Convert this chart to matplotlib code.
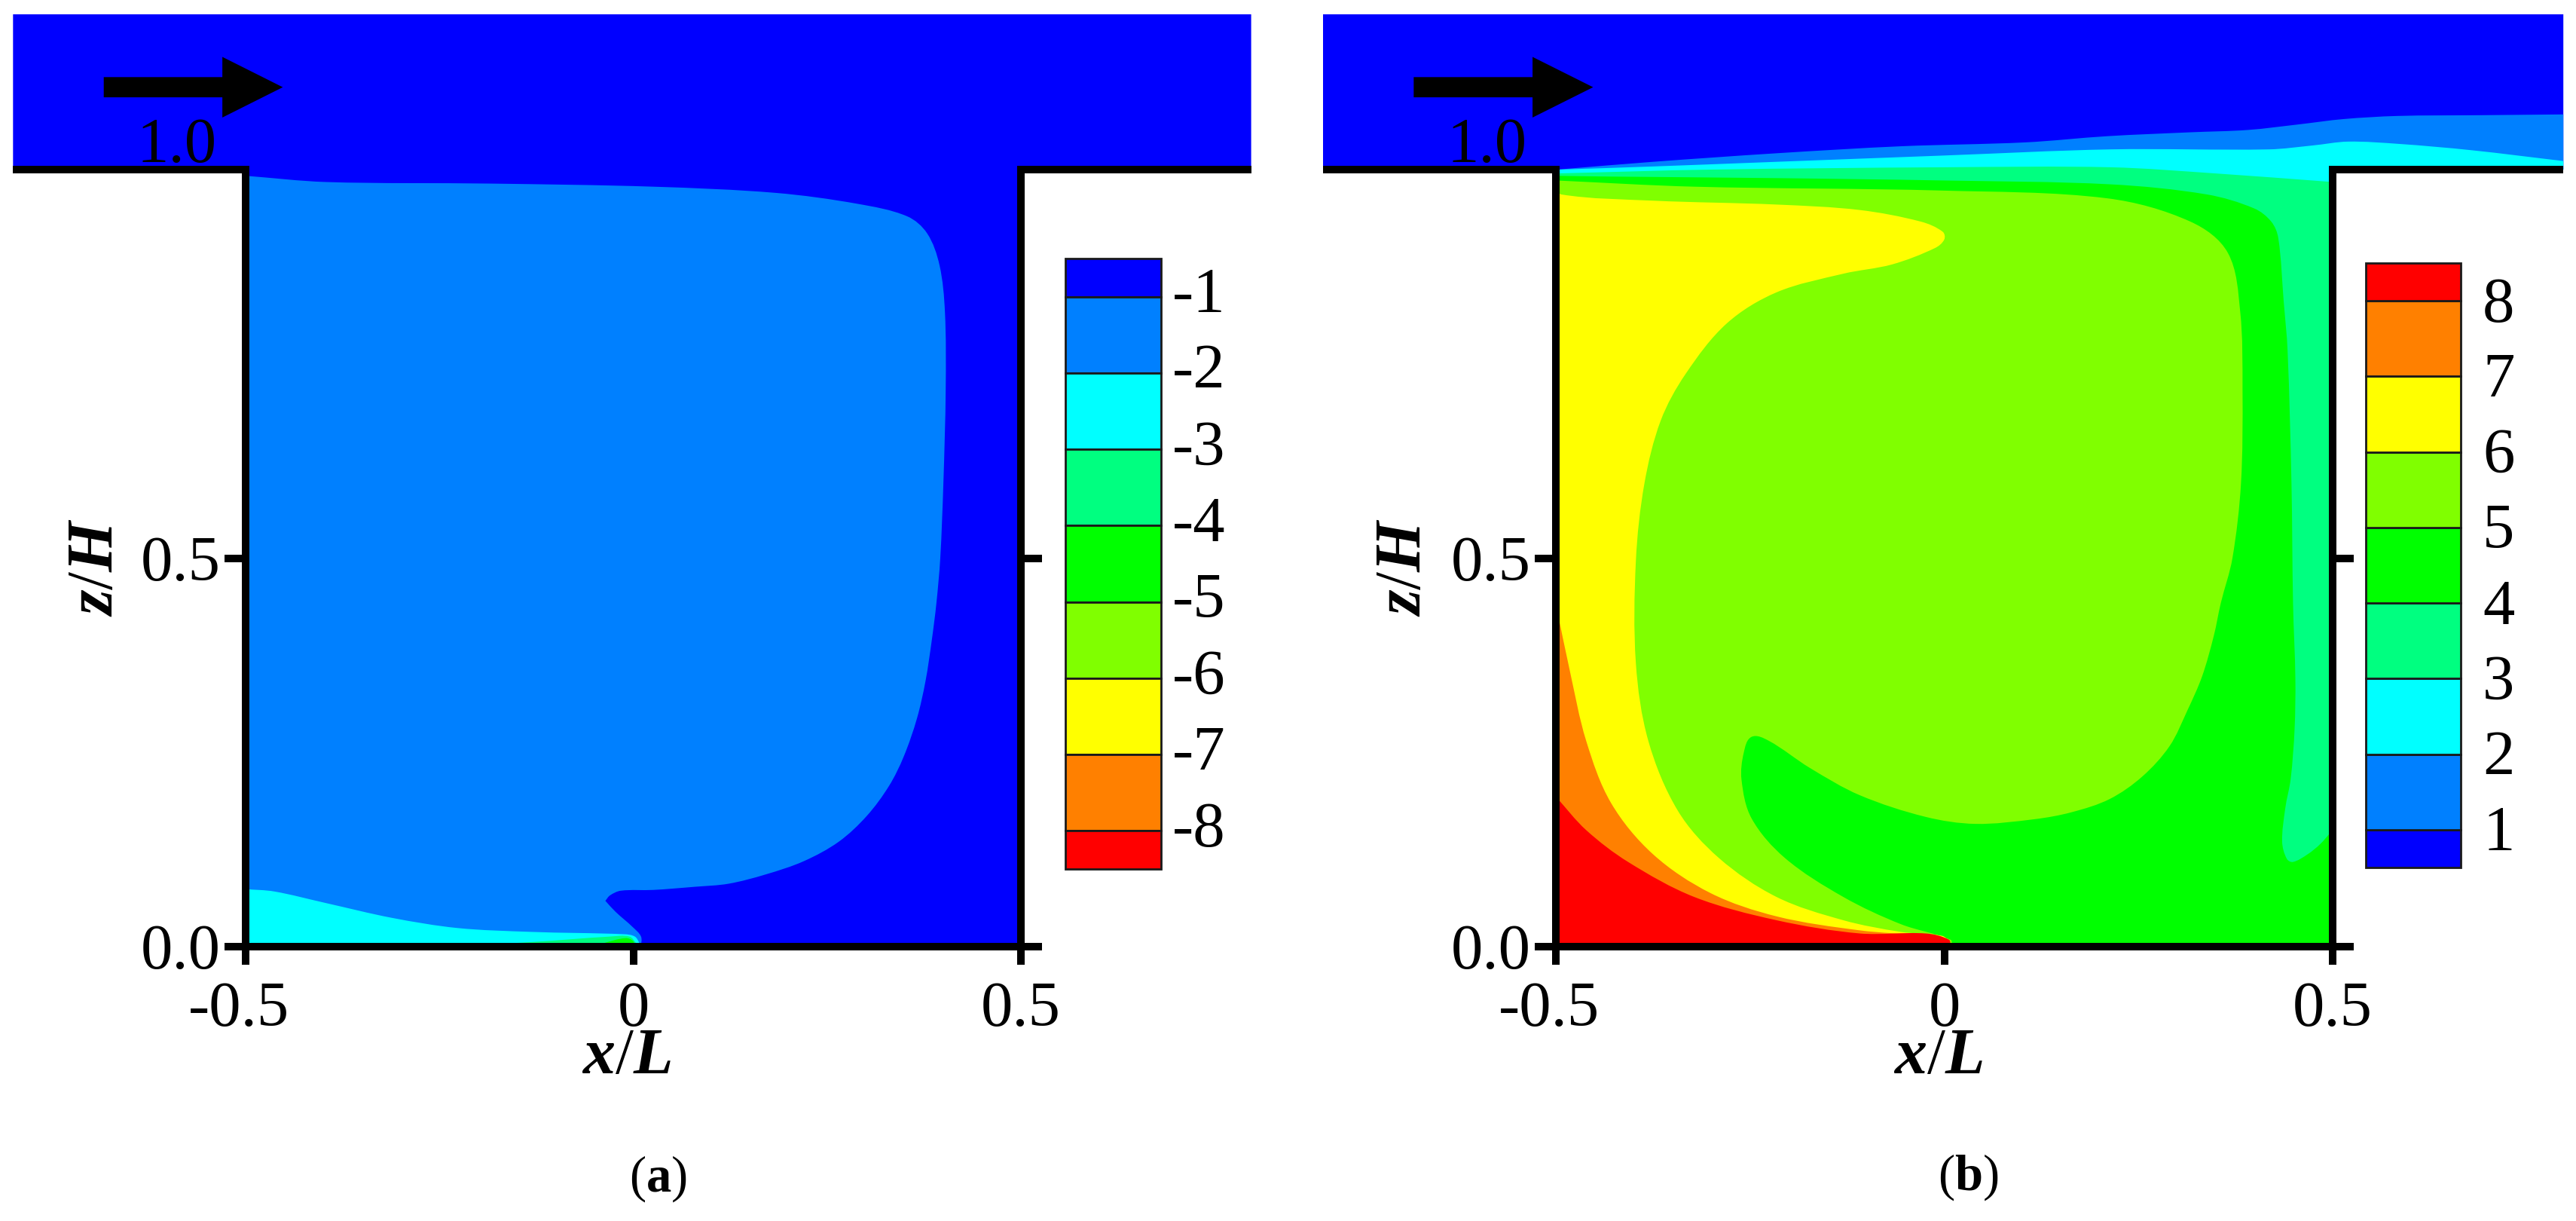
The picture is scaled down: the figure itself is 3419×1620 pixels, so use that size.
import matplotlib
matplotlib.use("Agg")
import numpy as np
import matplotlib.pyplot as plt
from matplotlib.patches import PathPatch
from matplotlib.path import Path
from matplotlib.transforms import ScaledTranslation

plt.rcParams['font.family'] = ['Liberation Serif', 'DejaVu Serif']
plt.rcParams['mathtext.fontset'] = 'custom'
plt.rcParams['mathtext.bf'] = 'Liberation Serif:bold'
plt.rcParams['mathtext.rm'] = 'Liberation Serif'
plt.rcParams['mathtext.bfit'] = 'Liberation Serif:italic:bold'

W, H = 3419, 1620
DPI = 100
FS = 61

BLUE, DODGER, CYAN, SPRING, LIME, CHART, YELLOW, ORANGE, RED = (
    '#0000ff', '#0080ff', '#00ffff', '#00ff80', '#00ff00',
    '#80ff00', '#ffff00', '#ff8000', '#ff0000')
cbar_colors = [BLUE, DODGER, CYAN, SPRING, LIME, CHART, YELLOW, ORANGE, RED]

x_ticks = [-0.5, 0, 0.5]
x_tick_labels = ['-0.5', '0', '0.5']
z_ticks = [0.0, 0.5, 1.0]
z_tick_labels = ['0.0', '0.5', '']

levels_a = [-1, -2, -3, -4, -5, -6, -7, -8]
edges_a = [-0.5, -1, -2, -3, -4, -5, -6, -7, -8, -8.5]
levels_b = [1, 2, 3, 4, 5, 6, 7, 8]
edges_b = [0.5, 1, 2, 3, 4, 5, 6, 7, 8, 8.5]

channel = [(-0.8, 1.0), (0.797, 1.0), (0.797, 1.2), (-0.8, 1.2)]
cavity = [(-0.5, 0.0), (0.5, 0.0), (0.5, 1.0), (-0.5, 1.0)]

# panel a, contour outlines (x/L, z/H)
a_dodger = [(-0.5, 0.992), (-0.396, 0.984), (-0.185, 0.982), (0.026, 0.978), (0.184, 0.970),
            (0.289, 0.956), (0.353, 0.940), (0.379, 0.918), (0.395, 0.877), (0.402, 0.817),
            (0.403, 0.717), (0.400, 0.596), (0.396, 0.500), (0.391, 0.442), (0.385, 0.394),
            (0.377, 0.342), (0.366, 0.294), (0.349, 0.245), (0.330, 0.207), (0.301, 0.168),
            (0.265, 0.135), (0.220, 0.110), (0.171, 0.093), (0.123, 0.081), (0.079, 0.077),
            (0.026, 0.073), (-0.016, 0.072), (-0.03, 0.066), (-0.036, 0.059), (-0.023, 0.045),
            (-0.0005, 0.025), (0.010, 0.013), (0.010, 0.0), (-0.5, 0.0)]
a_cyan = [(-0.5, 0.074), (-0.463, 0.071), (-0.396, 0.056), (-0.311, 0.037), (-0.227, 0.024),
          (-0.132, 0.019), (-0.012, 0.016), (0.002, 0.013), (0.008, 0.004), (0.008, 0.0), (-0.5, 0.0)]
a_spring = [(-0.24, 0.0), (-0.13, 0.006), (-0.03, 0.013), (-0.005, 0.013), (0.004, 0.004), (0.005, 0.0)]
a_lime = [(-0.05, 0.0), (-0.04, 0.004), (-0.01, 0.011), (0.0, 0.007), (0.001, 0.0)]

# panel b
b_dodger = [(-0.498, 1.0), (-0.375, 1.010), (-0.216, 1.021), (-0.056, 1.030), (0.104, 1.035),
            (0.210, 1.043), (0.317, 1.048), (0.391, 1.051), (0.455, 1.058), (0.514, 1.065),
            (0.583, 1.069), (0.690, 1.070), (0.797, 1.071), (0.797, 1.0), (0.5, 1.0), (0.5, 0.9),
            (-0.498, 0.9)]
b_cyan = [(-0.495, 1.0), (-0.375, 1.004), (-0.216, 1.010), (-0.003, 1.018), (0.214, 1.026),
          (0.418, 1.026), (0.474, 1.031), (0.520, 1.036), (0.586, 1.033), (0.678, 1.025),
          (0.797, 1.011), (0.797, 1.0), (0.5, 1.0), (0.5, 0.9), (-0.495, 0.9)]
b_spring = [(-0.5, 0.995), (-0.3, 1.0), (0.0, 1.003), (0.214, 1.003), (0.35, 0.995), (0.5, 0.984),
            (0.5, 0.0), (-0.5, 0.0)]
b_lime = [(-0.5, 0.992), (-0.429, 0.991), (-0.216, 0.989), (-0.003, 0.986), (0.214, 0.981),
          (0.338, 0.968), (0.399, 0.950), (0.421, 0.933), (0.430, 0.912), (0.437, 0.830),
          (0.442, 0.767), (0.447, 0.596), (0.449, 0.442), (0.452, 0.345), (0.451, 0.280),
          (0.446, 0.216), (0.439, 0.178), (0.435, 0.135), (0.441, 0.113), (0.449, 0.109),
          (0.468, 0.119), (0.484, 0.132), (0.5, 0.15), (0.5, 0.0), (-0.5, 0.0)]
b_chart = [(-0.5, 0.986), (-0.322, 0.978), (-0.003, 0.973), (0.210, 0.963), (0.317, 0.933),
           (0.365, 0.893), (0.381, 0.817), (0.384, 0.717), (0.382, 0.596), (0.371, 0.500),
           (0.356, 0.442), (0.347, 0.400), (0.332, 0.348), (0.313, 0.304), (0.290, 0.258),
           (0.255, 0.219), (0.213, 0.190), (0.164, 0.173), (0.116, 0.164), (0.040, 0.158),
           (-0.024, 0.167), (-0.109, 0.195), (-0.173, 0.230), (-0.226, 0.265),
           (-0.248, 0.270), (-0.258, 0.250), (-0.261, 0.215), (-0.248, 0.165), (-0.205, 0.114),
           (-0.130, 0.064), (-0.056, 0.029), (0.008, 0.009), (0.010, 0.0), (-0.5, 0.0)]
b_yellow = [(-0.5, 0.98), (-0.493, 0.968), (-0.375, 0.960), (-0.216, 0.955), (-0.109, 0.948),
            (-0.03, 0.933), (-0.002, 0.920), (0.0, 0.910), (-0.012, 0.899), (-0.067, 0.878), (-0.130, 0.866),
            (-0.216, 0.842), (-0.280, 0.802), (-0.333, 0.737), (-0.365, 0.677), (-0.386, 0.596),
            (-0.397, 0.496), (-0.397, 0.365), (-0.381, 0.265), (-0.343, 0.175), (-0.290, 0.114),
            (-0.216, 0.064), (-0.130, 0.034), (-0.056, 0.019), (-0.003, 0.014), (0.006, 0.007),
            (0.008, 0.0), (-0.5, 0.0)]
b_orange = [(-0.5, 0.441), (-0.482, 0.355), (-0.461, 0.265), (-0.429, 0.185), (-0.375, 0.119),
            (-0.301, 0.069), (-0.216, 0.039), (-0.109, 0.021), (-0.024, 0.014), (0.003, 0.009),
            (0.007, 0.0), (-0.5, 0.0)]
b_red = [(-0.5, 0.193), (-0.461, 0.150), (-0.407, 0.109), (-0.322, 0.064), (-0.216, 0.034),
         (-0.109, 0.017), (-0.024, 0.017), (0.006, 0.009), (0.008, 0.0), (-0.5, 0.0)]

arrow_start, arrow_end, arrow_z = -0.683, -0.452, 1.106


def px_axes(fig, x0, y0, x1, y1):
    return fig.add_axes([x0 / W, 1 - y1 / H, (x1 - x0) / W, (y1 - y0) / H])


def shift(label, dx, dy):
    label.set_transform(label.get_transform() + ScaledTranslation(dx / DPI, -dy / DPI, fig.dpi_scale_trans))


def smooth_path(pts, corner_deg=80):
    # bezier through the read points, sharp where the outline really turns
    p = np.array(pts, dtype=float)
    n = len(p)
    d_out = np.roll(p, -1, axis=0) - p
    seg = np.hypot(d_out[:, 0], d_out[:, 1])
    u_out = d_out / seg[:, None]
    u_in = np.roll(u_out, 1, axis=0)
    cos_turn = np.clip((u_in * u_out).sum(axis=1), -1, 1)
    corner = np.degrees(np.arccos(cos_turn)) > corner_deg
    tan = np.roll(p, -1, axis=0) - np.roll(p, 1, axis=0)
    tan = tan / np.hypot(tan[:, 0], tan[:, 1])[:, None]
    verts, codes = [p[0]], [Path.MOVETO]
    for i in range(n):
        j = (i + 1) % n
        t0 = u_out[i] if corner[i] else tan[i]
        t1 = u_out[i] if corner[j] else tan[j]
        verts += [p[i] + t0 * seg[i] / 3, p[j] - t1 * seg[i] / 3, p[j]]
        codes += [Path.CURVE4] * 3
    return Path(verts, codes)


def draw_panel(fig, left_px, unit_px, regions, xlabel_x, ylabel_x):
    ax = px_axes(fig, left_px, 1256 - 1.2 * 1031, left_px + 1.6 * unit_px, 1256)
    ax.set_xlim(-0.8, 0.8)
    ax.set_ylim(0, 1.2)
    ax.patch.set_visible(False)
    for pts, col in regions:
        ax.add_patch(PathPatch(smooth_path(pts), fc=col, ec='none', lw=0))
    # walls of the channel either side of the cavity
    ax.plot([-0.8, -0.5], [1, 1], color='k', lw=7.2, solid_capstyle='butt')
    ax.plot([0.5, 0.797], [1, 1], color='k', lw=7.2, solid_capstyle='butt')
    ax.spines['top'].set_visible(False)
    ax.spines['left'].set_position(('data', -0.5))
    ax.spines['right'].set_position(('data', 0.5))
    ax.spines['left'].set_bounds(0, 1)
    ax.spines['right'].set_bounds(0, 1)
    ax.spines['bottom'].set_bounds(-0.5, 0.5)
    for s in ['left', 'right', 'bottom']:
        ax.spines[s].set_linewidth(7.2)
    ax.set_xticks(x_ticks)
    ax.set_xticklabels(x_tick_labels)
    ax.set_yticks(z_ticks)
    ax.set_yticklabels(z_tick_labels)
    ax.tick_params(axis='x', direction='out', width=7.2, length=17, pad=16, labelsize=FS)
    ax.tick_params(axis='y', direction='out', width=7.2, length=20, pad=4, labelsize=FS, right=True)
    shift(ax.get_xticklabels()[0], -9, 0)
    ax.annotate('1.0', xy=(-0.5, 1.0), xytext=(-38 * 0.72, 10 * 0.72), textcoords='offset points',
                ha='right', va='baseline', fontsize=FS, color='k')
    ax.set_xlabel(r'$\mathbfit{x}/\mathbfit{L}$', fontsize=62, va='center')
    ax.xaxis.set_label_coords(xlabel_x, -0.143, transform=ax.transData)
    ax.set_ylabel(r'$\mathbfit{z}/\mathbfit{H}$', fontsize=62, va='center')
    ax.yaxis.set_label_coords(ylabel_x, 0.488, transform=ax.transData)
    ax.arrow(arrow_start, arrow_z, arrow_end - arrow_start, 0, width=0.026, head_width=0.078,
             head_length=0.078, length_includes_head=True, fc='k', ec='none', zorder=3)
    return ax


def draw_cbar(fig, rect, edges, levels, colors, pad, dy):
    cax = px_axes(fig, *rect)
    for i, col in enumerate(colors):
        cax.bar(0.5, edges[i + 1] - edges[i], bottom=edges[i], width=1, color=col,
                edgecolor='#1a1a1a', linewidth=2, clip_on=False)
    cax.set_xlim(0, 1)
    cax.set_ylim(min(edges), max(edges))
    cax.set_xticks([])
    cax.yaxis.tick_right()
    cax.set_yticks(levels)
    cax.set_yticklabels([str(v) for v in levels])
    cax.tick_params(axis='y', length=0, pad=pad, labelsize=FS)
    for s in cax.spines.values():
        s.set_visible(False)
    for lab in cax.get_yticklabels():
        shift(lab, 0, dy)


fig = plt.figure(figsize=(W / DPI, H / DPI), dpi=DPI, facecolor='white')

regions_a = [(channel, BLUE), (cavity, BLUE), (a_dodger, DODGER), (a_cyan, CYAN),
             (a_spring, SPRING), (a_lime, LIME)]
regions_b = [(channel, BLUE), (cavity, BLUE), (b_dodger, DODGER), (b_cyan, CYAN),
             (b_spring, SPRING), (b_lime, LIME), (b_chart, CHART), (b_yellow, YELLOW),
             (b_orange, ORANGE), (b_red, RED)]

draw_panel(fig, 17.3, 1029, regions_a, -0.009, -0.692)
draw_panel(fig, 1755.7, 1031, regions_b, -0.008, -0.695)

draw_cbar(fig, (1414, 343, 1541, 1153), edges_a, levels_a, cbar_colors, 11, -9)
draw_cbar(fig, (3140, 349, 3266, 1151), edges_b, levels_b, cbar_colors, 21, -2)

fig.text(873 / W, 1 - 1564 / H, r'($\mathbf{a}$)', fontsize=48, ha='center', va='center')
fig.text(2612 / W, 1 - 1562 / H, r'($\mathbf{b}$)', fontsize=48, ha='center', va='center')

fig.savefig('out.png', dpi=DPI)
